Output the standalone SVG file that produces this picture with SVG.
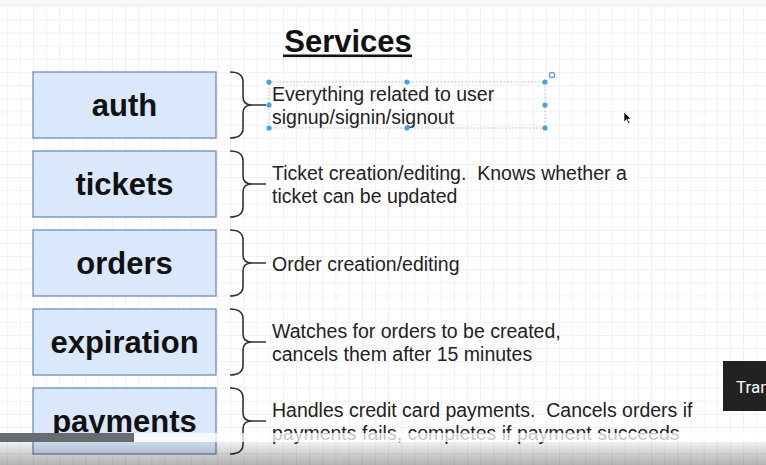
<svg xmlns="http://www.w3.org/2000/svg" width="766" height="465" viewBox="0 0 766 465">
<defs>
<pattern id="grid" patternUnits="userSpaceOnUse" x="6.7" y="6.2" width="13.15" height="13.15">
<path d="M0.5,0 V13.15 M0,0.5 H13.15" fill="none" stroke="#f0f0f4" stroke-width="1"/>
</pattern>
<linearGradient id="shade" x1="0" y1="0" x2="0" y2="1">
<stop offset="0" stop-color="#000" stop-opacity="0.06"/>
<stop offset="1" stop-color="#000" stop-opacity="0.3"/>
</linearGradient>
<clipPath id="clipTran"><rect x="723" y="361" width="43" height="50"/></clipPath>
<path id="brace" d="M0,0 Q13,0 13,10 L13,25 Q13,33 22,33 L36,33 M22,33 Q13,33 13,41 L13,56 Q13,66 0,66" fill="none" stroke="#333" stroke-width="1.6"/>
</defs>
<style>
.box{fill:#dae8fc;stroke:#6c8ebf;stroke-width:1.3}
.lbl{font-family:"Liberation Sans",Arial,sans-serif;font-weight:bold;font-size:31px;fill:#111;text-anchor:middle}
.desc{font-family:"Liberation Sans",Arial,sans-serif;font-size:19.5px;fill:#222}
.h{fill:#4b9fe0}
</style>
<rect width="766" height="465" fill="#fff"/>
<rect width="766" height="465" fill="url(#grid)"/>
<rect x="0" y="0" width="766" height="5" fill="#f7f7f7"/>
<line x1="0" y1="5" x2="766" y2="5" stroke="#e6e6e6" stroke-width="1"/>

<g id="title">
<text x="348" y="52" class="lbl">Services</text>
<rect x="283" y="54.5" width="129" height="2.6" fill="#111"/>
</g>

<g id="connectors">
<use href="#brace" x="230" y="72"/>
<use href="#brace" x="230" y="151"/>
<use href="#brace" x="230" y="230"/>
<use href="#brace" x="230" y="309"/>
<use href="#brace" x="230" y="388"/>
</g>

<g id="auth"><rect class="box" x="33" y="72" width="183" height="66"/><text class="lbl" x="124.5" y="116">auth</text></g>
<g id="tickets"><rect class="box" x="33" y="151" width="183" height="66"/><text class="lbl" x="124.5" y="195">tickets</text></g>
<g id="orders"><rect class="box" x="33" y="230" width="183" height="66"/><text class="lbl" x="124.5" y="274">orders</text></g>
<g id="expiration"><rect class="box" x="33" y="309" width="183" height="66"/><text class="lbl" x="124.5" y="353">expiration</text></g>
<g id="payments"><rect class="box" x="33" y="388" width="183" height="66"/><text class="lbl" x="124.5" y="432">payments</text></g>

<g id="auth-desc">
<text class="desc" x="272" y="101">Everything related to user</text>
<text class="desc" x="272" y="124">signup/signin/signout</text>
</g>
<g id="tickets-desc">
<text class="desc" x="272" y="180" xml:space="preserve">Ticket creation/editing.  Knows whether a</text>
<text class="desc" x="272" y="203">ticket can be updated</text>
</g>
<g id="orders-desc">
<text class="desc" x="272" y="271">Order creation/editing</text>
</g>
<g id="expiration-desc">
<text class="desc" x="272" y="338">Watches for orders to be created,</text>
<text class="desc" x="272" y="361">cancels them after 15 minutes</text>
</g>
<g id="payments-desc">
<text class="desc" x="272" y="417" xml:space="preserve">Handles credit card payments.  Cancels orders if</text>
<text class="desc" x="272" y="440">payments fails, completes if payment succeeds</text>
</g>

<g id="selection">
<rect x="269" y="82" width="276" height="46" fill="none" stroke="#9ab" stroke-width="0.8" stroke-dasharray="1.5,2"/>
<circle class="h" cx="269" cy="82" r="2.6"/><circle class="h" cx="407" cy="82" r="2.6"/><circle class="h" cx="545" cy="82" r="2.6"/>
<circle class="h" cx="269" cy="105" r="2.6"/><circle class="h" cx="545" cy="105" r="2.6"/>
<circle class="h" cx="269" cy="128" r="2.6"/><circle class="h" cx="407" cy="128" r="2.6"/><circle class="h" cx="545" cy="128" r="2.6"/>
<circle cx="552" cy="75" r="2.6" fill="#fff" stroke="#4b9fe0" stroke-width="1.2"/>
</g>

<path id="cursor" d="M624,112 L624,122 L626.5,119.5 L628.5,123.5 L629.8,122.8 L627.8,119 L631,119 Z" fill="#111" stroke="#fff" stroke-width="0.6"/>

<g id="overlay">
<rect x="134" y="433" width="632" height="9" fill="#fff" fill-opacity="0.75"/>
<rect x="0" y="433" width="134" height="9" fill="#676c70"/>
<rect x="0" y="442" width="766" height="23" fill="url(#shade)"/>
<rect x="723" y="361" width="43" height="50" fill="#212121"/>
<text x="736" y="393" clip-path="url(#clipTran)" style="font-family:'Roboto','Liberation Sans',sans-serif;font-size:17px;fill:#fff">Tran</text>
</g>
</svg>
